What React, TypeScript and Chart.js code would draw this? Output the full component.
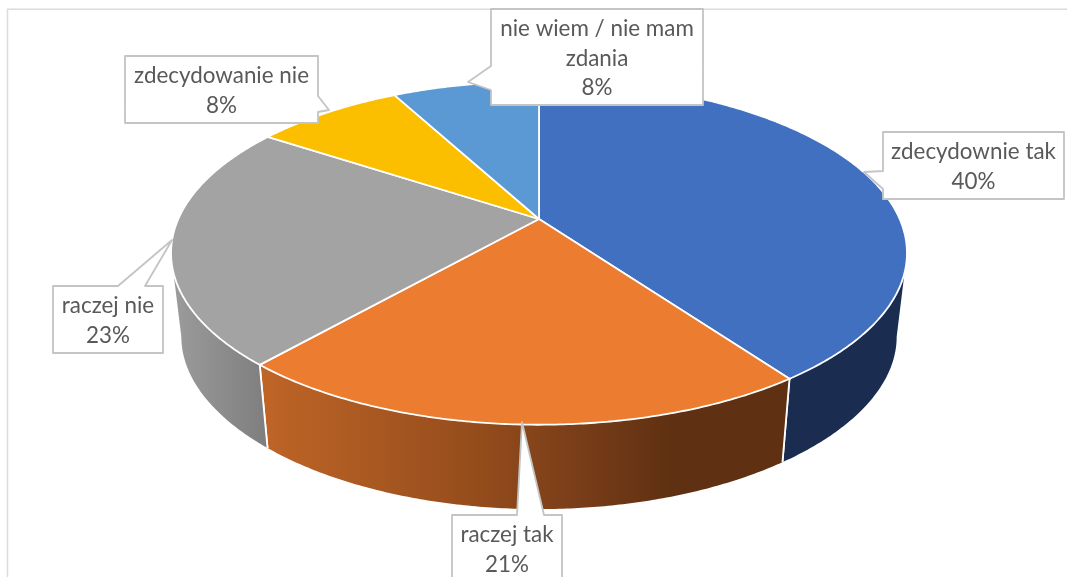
import React, { useEffect, useRef } from "react";
import { Chart, PieController, ArcElement } from "chart.js";

// ---------- data ----------
const categories = ["zdecydownie tak", "raczej tak", "raczej nie", "zdecydowanie nie", "nie wiem / nie mam zdania"];
const shares = [40.1, 21.35, 22.85, 7.9, 7.8];
const sliceColors = ["#4270c0", "#ec7c30", "#a3a3a3", "#fbbf00", "#5a99d4"];
const wallStops: Record<string, [number, string][]> = {
  "#4270c0": [[0, "#1a2c50"], [1, "#1a2c50"]],
  "#ec7c30": [[0, "#bf6527"], [0.4, "#964d1c"], [0.58, "#7c3f19"], [0.78, "#5f3012"], [1, "#5f3012"]],
  "#a3a3a3": [[0, "#9c9c9c"], [1, "#7e7e7e"]],
};

// ---------- view of the disc ----------
const W = 1067;
const H = 577;
const PERSPECTIVE = 0.198;
const BOTTOM_PERSPECTIVE_Y = 0.22;
const X_STRETCH = 2.186;
const DEPTH = 84.5;
const BOTTOM_SCALE = 0.972;
const WALL_FROM = (101.4 * Math.PI) / 180;
const WALL_TO = (258.6 * Math.PI) / 180;

// ---------- callout boxes ----------
type Box = { l: number; t: number; r: number; b: number; side: string; tip: [number, number]; a: number; c: number };
const callouts: Box[] = [
  { l: 883, t: 132, r: 1064, b: 199, side: "left", tip: [864, 172], a: 171, c: 189 },
  { l: 452, t: 515, r: 562, b: 600, side: "top", tip: [522, 422], a: 517, c: 544 },
  { l: 53, t: 286, r: 163, b: 353, side: "top", tip: [172, 240], a: 118, c: 145 },
  { l: 125, t: 56, r: 318, b: 123, side: "right", tip: [329, 110], a: 96, c: 112 },
  { l: 491, t: 9, r: 703, b: 105, side: "left", tip: [468, 82], a: 66, c: 90 },
];
const FONT = '22.4px Lato, "Noto Sans", sans-serif';

class Arc3D extends ArcElement {
  static id = "arc3d";
  static defaults = ArcElement.defaults;
  draw(ctx: CanvasRenderingContext2D) {
    const { x, y, startAngle, endAngle, outerRadius } = this.getProps(
      ["x", "y", "startAngle", "endAngle", "outerRadius"] as any
    ) as any;
    const project = (theta: number, bottom: boolean): [number, number] => {
      const X = Math.sin(theta);
      const Y = -Math.cos(theta);
      const dx = 1 - PERSPECTIVE * Y;
      const dy = 1 - (bottom ? BOTTOM_PERSPECTIVE_Y : PERSPECTIVE) * Y;
      const s = bottom ? BOTTOM_SCALE : 1;
      return [
        x + (s * X_STRETCH * outerRadius * X) / dx,
        y + (bottom ? DEPTH : 0) + (s * outerRadius * Y) / dy,
      ];
    };
    const a0 = startAngle + Math.PI / 2;
    const a1 = endAngle + Math.PI / 2;
    const STEP = Math.PI / 360;

    // side wall
    const w0 = Math.max(a0, WALL_FROM);
    const w1 = Math.min(a1, WALL_TO);
    const color = this.options.backgroundColor as string;
    if (w1 > w0 && wallStops[color]) {
      const pts: [number, number][] = [];
      for (let t = w0; t < w1; t += STEP) pts.push(project(t, false));
      pts.push(project(w1, false));
      const low: [number, number][] = [];
      for (let t = w0; t < w1; t += STEP) low.push(project(t, true));
      low.push(project(w1, true));
      const xs = pts.concat(low).map((p) => p[0]);
      const g = ctx.createLinearGradient(Math.min(...xs), 0, Math.max(...xs), 0);
      wallStops[color].forEach(([o, c]) => g.addColorStop(o, c));
      ctx.beginPath();
      pts.forEach((p, i) => (i ? ctx.lineTo(p[0], p[1]) : ctx.moveTo(p[0], p[1])));
      low.reverse().forEach((p) => ctx.lineTo(p[0], p[1]));
      ctx.closePath();
      ctx.fillStyle = g;
      ctx.fill();
      ctx.strokeStyle = "#ffffff";
      ctx.lineWidth = 1.8;
      [
        [a0, a0 >= WALL_FROM],
        [a1, a1 <= WALL_TO],
      ].forEach(([t, show]) => {
        if (!show) return;
        const p = project(t as number, false);
        const q = project(t as number, true);
        ctx.beginPath();
        ctx.moveTo(p[0], p[1]);
        ctx.lineTo(q[0], q[1]);
        ctx.stroke();
      });
    }

    // top face
    ctx.beginPath();
    ctx.moveTo(x, y);
    for (let t = a0; t < a1; t += STEP) {
      const p = project(t, false);
      ctx.lineTo(p[0], p[1]);
    }
    const e = project(a1, false);
    ctx.lineTo(e[0], e[1]);
    ctx.closePath();
    ctx.fillStyle = color;
    ctx.fill();
    ctx.strokeStyle = "#ffffff";
    ctx.lineWidth = 1.8;
    ctx.lineJoin = "round";
    ctx.stroke();
  }
}

class Pie3D extends PieController {
  static id = "pie3d";
  static defaults = { dataElementType: "arc3d" };
}

Chart.register(Arc3D, Pie3D as any);

const wrap = (ctx: CanvasRenderingContext2D, text: string, max: number) => {
  const lines: string[] = [];
  let cur = "";
  text.split(" ").forEach((w) => {
    const next = cur ? cur + " " + w : w;
    if (ctx.measureText(next).width > max && cur) {
      lines.push(cur);
      cur = w;
    } else cur = next;
  });
  if (cur) lines.push(cur);
  return lines;
};

const framePlugin = {
  id: "frame",
  beforeDraw(chart: any) {
    const ctx = chart.ctx;
    ctx.save();
    ctx.fillStyle = "#ffffff";
    ctx.fillRect(0, 0, W, H);
    ctx.strokeStyle = "#dcdcdc";
    ctx.lineWidth = 1.5;
    ctx.beginPath();
    ctx.moveTo(7.5, H);
    ctx.lineTo(7.5, 9.2);
    ctx.lineTo(W, 9.2);
    ctx.stroke();
    ctx.restore();
  },
};

const calloutPlugin = {
  id: "callouts",
  afterDatasetsDraw(chart: any) {
    const ctx: CanvasRenderingContext2D = chart.ctx;
    const labels: string[] = chart.data.labels;
    const vals: number[] = chart.data.datasets[0].data;
    ctx.save();
    callouts.forEach((b, i) => {
      ctx.beginPath();
      ctx.moveTo(b.l, b.t);
      if (b.side === "top") {
        ctx.lineTo(b.a, b.t);
        ctx.lineTo(b.tip[0], b.tip[1]);
        ctx.lineTo(b.c, b.t);
      }
      ctx.lineTo(b.r, b.t);
      if (b.side === "right") {
        ctx.lineTo(b.r, b.a);
        ctx.lineTo(b.tip[0], b.tip[1]);
        ctx.lineTo(b.r, b.c);
      }
      ctx.lineTo(b.r, b.b);
      ctx.lineTo(b.l, b.b);
      if (b.side === "left") {
        ctx.lineTo(b.l, b.c);
        ctx.lineTo(b.tip[0], b.tip[1]);
        ctx.lineTo(b.l, b.a);
      }
      ctx.closePath();
      ctx.fillStyle = "#ffffff";
      ctx.fill();
      ctx.strokeStyle = "#c4c4c4";
      ctx.lineWidth = 1.8;
      ctx.stroke();

      ctx.font = FONT;
      ctx.fillStyle = "#595959";
      ctx.textAlign = "center";
      ctx.textBaseline = "alphabetic";
      const lines = wrap(ctx, labels[i], b.r - b.l - 4);
      lines.push(Math.round(vals[i]) + "%");
      lines.forEach((ln, k) => ctx.fillText(ln, (b.l + b.r) / 2, b.t + 27 + k * 29.6));
    });
    ctx.restore();
  },
};

export default function App() {
  const ref = useRef<HTMLCanvasElement>(null);
  useEffect(() => {
    const chart = new Chart(ref.current as HTMLCanvasElement, {
      type: "pie3d" as any,
      data: {
        labels: categories,
        datasets: [{ data: shares, backgroundColor: sliceColors, borderWidth: 0, hoverOffset: 0 } as any],
      },
      options: {
        animation: false,
        responsive: false,
        layout: { padding: { top: 54, bottom: 193, left: 11, right: 0 } },
        plugins: { legend: { display: false }, tooltip: { enabled: false } },
      } as any,
      plugins: [framePlugin, calloutPlugin],
    });
    return () => chart.destroy();
  }, []);
  return (
    <div style={{ position: "fixed", left: 0, top: 0, width: W, height: H, overflow: "hidden" }}>
      <canvas ref={ref} width={W} height={H} style={{ display: "block" }} />
    </div>
  );
}
